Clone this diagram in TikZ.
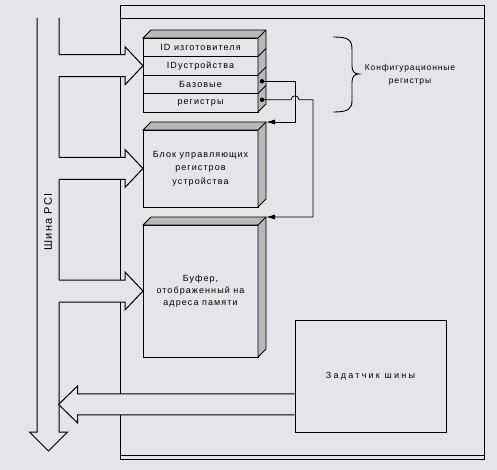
\documentclass[tikz,border=0pt]{standalone}
\usepackage{fontspec}
\setmainfont[LetterSpace=12]{Liberation Sans}
\newfontfamily\bracefont[LetterSpace=10]{Liberation Sans}
\newfontfamily\widefont[LetterSpace=25]{Liberation Sans}
\usetikzlibrary{arrows.meta,positioning}
\definecolor{bgcol}{RGB}{229,228,233}
% gray top and right faces of a block (top node, bottom node)
\newcommand\blocksides[2]{%
  \filldraw[side] (#1.north west) -- ++(8,-8) -| ([shift={(8,-8)}]#2.south east)
    -- (#2.south east) -- (#1.north east) -- cycle;
  \draw (#1.north east) -- ++(8,-8);}
% wide arrow from the bus into a block
\newcommand\inarrow[1]{%
  \fill[bgcol] (#1.west) -- ++(-18,-19) -- ++(0,8) -- ++(-67,0) -- ++(0,22) -- ++(67,0) -- ++(0,8) -- cycle;
  \draw[bigline] ([shift={(-84,-11)}]#1.west) -- ++(66,0) -- ++(0,-8) -- (#1.west)
    -- ++(-18,19) -- ++(0,-8) -- ++(-66,0);}
\begin{document}
\begin{tikzpicture}[x=1pt,y=-1pt,line width=0.9pt,
  face/.style={draw,fill=bgcol,minimum width=115pt,inner sep=1pt,outer sep=0pt,
    align=center,font=\fontsize{9}{13.5}\selectfont},
  side/.style={fill=black!28},
  bigline/.style={line width=1pt},
  wire/.style={line width=0.8pt,-{Latex[length=9pt,width=5pt]}},
  dot/.style={circle,fill,inner sep=0pt,minimum size=4.5pt}]
  \fill[bgcol] (0,0) rectangle (497,470);
  \useasboundingbox (0,0) rectangle (497,470);
  % board
  \draw (120,459) -- (120,5) -- (484,5) -- (484,459) -- cycle;
  \draw (120,18) -- (484,18);
  \draw (120,455) -- (484,455);
  % PCI bus
  \coordinate (busL) at (37,18);
  \coordinate (busR) at (59,18);
  \draw[bigline] (busL) -- (37,432) -- (29.5,432) -- (48.5,451) -- (67.5,432) -- (59,432) -- (busR);
  \node[rotate=90,font=\bracefont\fontsize{11}{12}\selectfont] (buslbl) at (48,222) {Шина PCI};
  % configuration registers
  \node[face,minimum height=18.5pt] (row1) at (200.5,47.25) {ID изготовителя};
  \node[face,minimum height=18.5pt,below=0pt of row1] (row2) {IDустройства};
  \node[face,minimum height=18.5pt,below=0pt of row2] (row3) {Базовые};
  \node[face,minimum height=18.5pt,below=0pt of row3] (row4) {регистры};
  \blocksides{row1}{row4}
  \foreach \r in {1,2,3}
    \draw (row\r.south east) -- ++(8,-8);
  \node[dot] (d3) at ([shift={(4,-3)}]row3.east) {};
  \node[dot] (d4) at ([shift={(4,-3)}]row4.east) {};
  % control registers and buffer
  \node[face,minimum height=77pt] (regs) at (200.5,168.5) {Блок управляющих\\регистров\\устройства};
  \blocksides{regs}{regs}
  \node[face,minimum height=132pt,font=\fontsize{9}{12}\selectfont] (buf) at (200.5,291) {Буфер,\\отображенный на\\адреса памяти};
  \blocksides{buf}{buf}
  \coordinate (c2) at ([shift={(8,-8)}]regs.north east);
  \coordinate (c3) at ([shift={(8,-8)}]buf.north east);
  % bus master
  \node[draw,fill=bgcol,minimum width=151pt,minimum height=112pt,
    font=\widefont\fontsize{9}{11}\selectfont] (master) at (370.5,376) {Задатчик шины};
  % wide arrows
  \inarrow{row2}
  \inarrow{regs}
  \inarrow{buf}
  \coordinate (rs) at ([shift={(0,-28)}]master.south west);
  \fill[bgcol] ([shift={(0,-10.5)}]rs) -- ++(-217,0) -- ++(0,-8) -- ++(-19,18.5)
    -- ++(19,18.5) -- ++(0,-8) -- ++(217,0) -- cycle;
  \draw[bigline] ([shift={(0,-10.5)}]rs) -- ++(-217,0) -- ++(0,-8) -- ++(-19,18.5)
    -- ++(19,18.5) -- ++(0,-8) -- ++(217,0);
  % wires from base registers
  \draw[wire] (d3.center) -| ([xshift=29pt]c2) -- (c2);
  \draw[wire] (d4.center) -- ++(29,0) arc[start angle=180,end angle=360,radius=4]
    -| ([xshift=47pt]c3) -- (c3);
  % brace
  \draw (333,37) .. controls (349,37) and (352,40) .. (352,50) -- (352,66)
    .. controls (352,72) and (355,74) .. (359,74)
    .. controls (355,74) and (352,76) .. (352,82) -- (352,100)
    .. controls (352,109) and (349,112) .. (333,112);
  \node[align=center,font=\bracefont\fontsize{8.5}{12.5}\selectfont] (cfg) at (410,75) {Конфигурационные\\регистры};
\end{tikzpicture}
\end{document}
